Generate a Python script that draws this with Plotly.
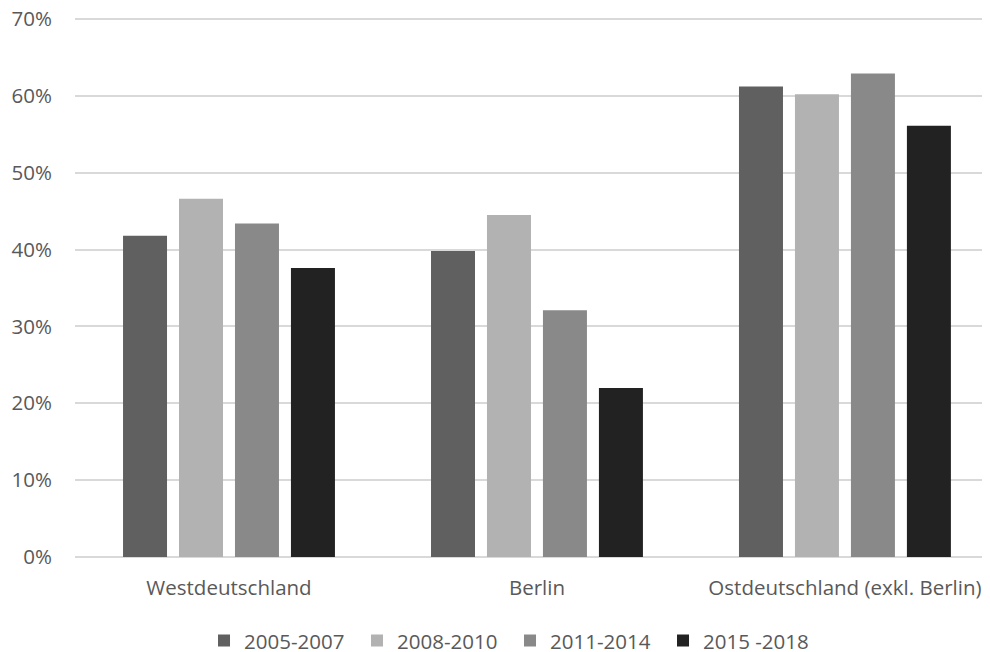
import plotly.graph_objects as go

# regions and shares per period
regions = ["Westdeutschland", "Berlin", "Ostdeutschland (exkl. Berlin)"]
periods = ["2005-2007", "2008-2010", "2011-2014", "2015 -2018"]
share_2005_2007 = [0.418, 0.398, 0.612]
share_2008_2010 = [0.466, 0.445, 0.602]
share_2011_2014 = [0.434, 0.321, 0.629]
share_2015_2018 = [0.376, 0.220, 0.561]
y_ticks = [0, 0.1, 0.2, 0.3, 0.4, 0.5, 0.6, 0.7]

colors = ["#606060", "#b2b2b2", "#898989", "#222222"]
series = [share_2005_2007, share_2008_2010, share_2011_2014, share_2015_2018]

fig = go.Figure()
for name, vals, col in zip(periods, series, colors):
    fig.add_trace(go.Bar(x=regions, y=vals, name=name,
                         marker=dict(color=col, line=dict(width=0))))

# the page body has an 8px margin, so the figure is a bit smaller than the window
text_col = "#595959"
fig.update_layout(
    width=982, height=644,
    margin=dict(l=67, r=0, t=9, b=95, autoexpand=False),
    paper_bgcolor="white", plot_bgcolor="white",
    font=dict(family="Open Sans", size=20.5, color=text_col),
    barmode="group", bargap=0.273, bargroupgap=0.214,
    showlegend=True,
    legend=dict(orientation="h", x=0.141, xanchor="left", y=-0.155, yanchor="middle",
                font=dict(size=20.5, color=text_col), entrywidth=108,
                traceorder="normal"),
)
fig.update_xaxes(range=[-0.5, 2.471], showgrid=False, zeroline=False,
                 showline=False, ticks="", ticklabelstandoff=16, automargin=False)
fig.update_yaxes(range=[0, 0.7025], tickvals=y_ticks, tickformat=".0%",
                 showgrid=True, gridcolor="#d9d9d9", gridwidth=2,
                 zeroline=True, zerolinecolor="#d9d9d9", zerolinewidth=2,
                 showline=False, ticks="", ticklabelstandoff=22, automargin=False,
                 ticklabeloverflow="allow")

fig.write_html("out.html")
